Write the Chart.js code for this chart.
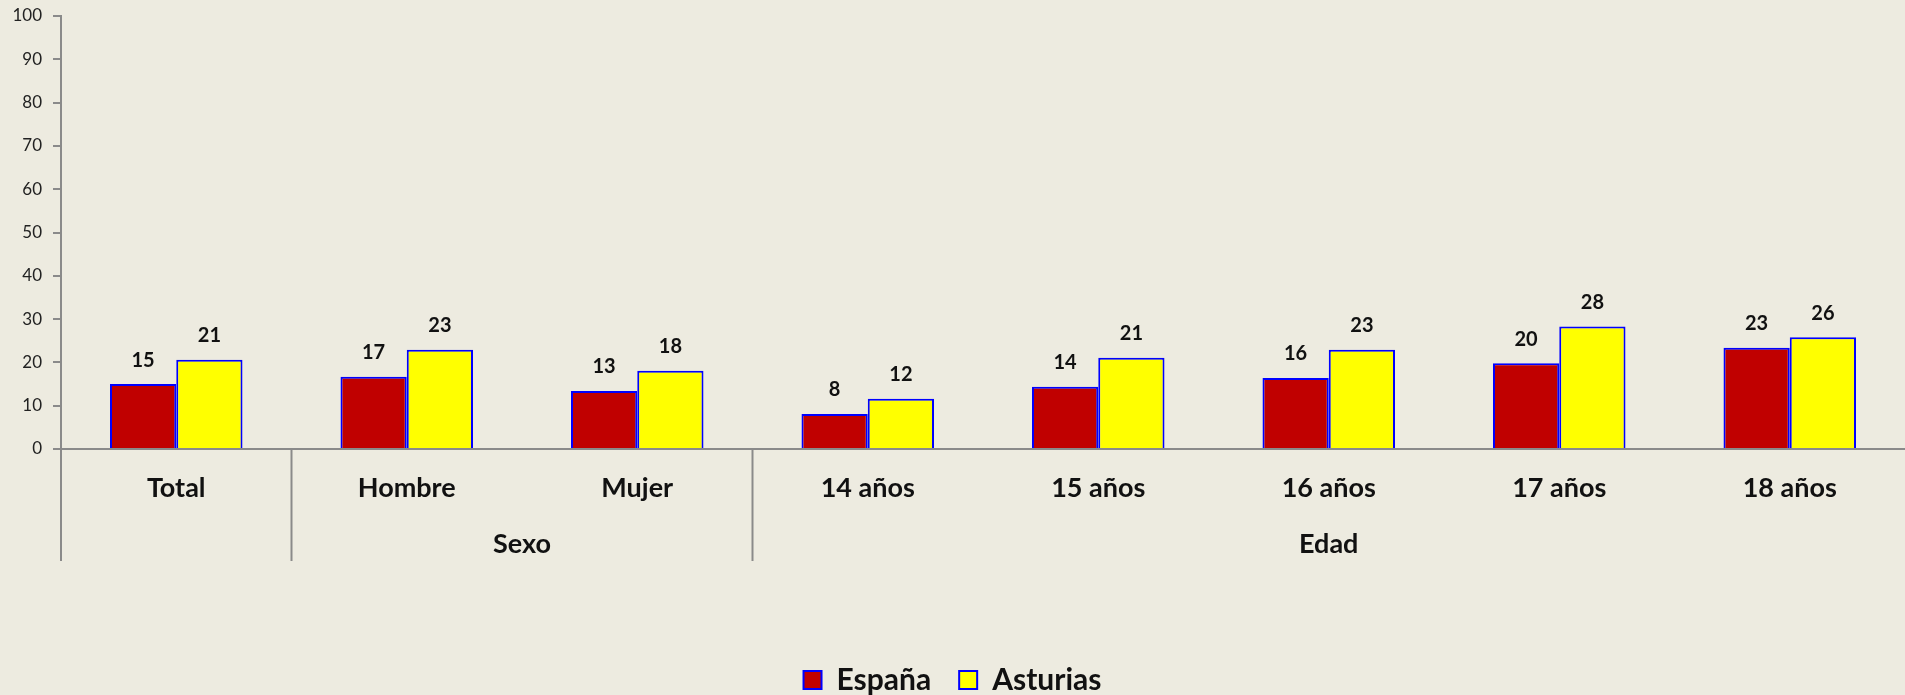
<!DOCTYPE html>
<html>
<head>
<meta charset="utf-8">
<script src="https://cdn.jsdelivr.net/npm/chart.js@4/dist/chart.umd.min.js"></script>
<style>
  body { margin: 0; background: #EDEBE0; }
  #wrap { width: 1905px; height: 695px; }
</style>
</head>
<body>
<div id="wrap"><canvas id="myChart"></canvas></div>
<script>
var categories = ["Total", "Hombre", "Mujer", "14 años", "15 años", "16 años", "17 años", "18 años"];
var groups = [
  { label: "", from: 0, to: 0 },
  { label: "Sexo", from: 1, to: 2 },
  { label: "Edad", from: 3, to: 7 }
];
var espana = [15.0, 16.7, 13.4, 8.1, 14.4, 16.4, 19.8, 23.4];
var asturias = [20.6, 22.9, 18.1, 11.6, 21.1, 22.9, 28.3, 25.8];
var yTicks = [0, 10, 20, 30, 40, 50, 60, 70, 80, 90, 100];

var FONT = "Lato";
var axisGray = "#8a8a8a";

// value labels above each bar
var barLabels = {
  id: "barLabels",
  afterDatasetsDraw: function (chart) {
    var ctx = chart.ctx;
    ctx.save();
    ctx.font = "bold 20px " + FONT;
    ctx.fillStyle = "#111";
    ctx.textAlign = "center";
    ctx.textBaseline = "middle";
    chart.data.datasets.forEach(function (ds, i) {
      chart.getDatasetMeta(i).data.forEach(function (bar, j) {
        ctx.fillText(Math.round(ds.data[j]), bar.x, bar.y - 24);
      });
    });
    ctx.restore();
  }
};

// group dividers and second-level labels under the x axis
var groupAxis = {
  id: "groupAxis",
  afterDraw: function (chart) {
    var ctx = chart.ctx;
    var x = chart.scales.x;
    var half = (x.getPixelForValue(1) - x.getPixelForValue(0)) / 2;
    var top = chart.chartArea.bottom;
    ctx.save();
    ctx.strokeStyle = axisGray;
    ctx.lineWidth = 2;
    groups.forEach(function (g) {
      var left = x.getPixelForValue(g.from) - half;
      ctx.beginPath();
      ctx.moveTo(left, top);
      ctx.lineTo(left, top + 112);
      ctx.stroke();
      if (g.label) {
        var right = x.getPixelForValue(g.to) + half;
        ctx.font = "bold 27px " + FONT;
        ctx.fillStyle = "#111";
        ctx.textAlign = "center";
        ctx.textBaseline = "middle";
        ctx.fillText(g.label, (left + right) / 2, top + 95);
      }
    });
    ctx.restore();
  }
};

new Chart(document.getElementById("myChart"), {
  type: "bar",
  data: {
    labels: categories,
    datasets: [{
      label: "España",
      data: espana,
      backgroundColor: "#C00000",
      borderColor: "#0000FF",
      borderWidth: 2,
      categoryPercentage: 0.575,
      barPercentage: 1
    }, {
      label: "Asturias",
      data: asturias,
      backgroundColor: "#FFFF00",
      borderColor: "#0000FF",
      borderWidth: 2,
      categoryPercentage: 0.575,
      barPercentage: 1
    }]
  },
  options: {
    responsive: true,
    maintainAspectRatio: false,
    animation: false,
    layout: { padding: { top: 16, right: 0, left: 0, bottom: -10 } },
    plugins: {
      tooltip: { enabled: false },
      legend: {
        position: "bottom",
        labels: {
          boxWidth: 18,
          boxHeight: 18,
          padding: 28,
          color: "#111",
          font: { family: FONT, size: 30, weight: "bold" }
        }
      }
    },
    scales: {
      x: {
        grid: { display: false, drawTicks: false },
        border: { display: true, color: axisGray, width: 2 },
        ticks: {
          padding: 23,
          color: "#111",
          maxRotation: 0,
          autoSkip: false,
          font: { family: FONT, size: 27, weight: "bold" }
        },
        afterFit: function (s) { s.height = 188; }
      },
      y: {
        min: 0,
        max: 100,
        afterBuildTicks: function (s) { s.ticks = yTicks.map(function (v) { return { value: v }; }); },
        grid: { display: true, drawOnChartArea: false, drawTicks: true, tickLength: 8, color: axisGray, lineWidth: 2 },
        border: { display: true, color: axisGray, width: 2 },
        ticks: {
          padding: 11,
          color: "#222",
          font: { family: FONT, size: 17 }
        },
        afterFit: function (s) { s.width = 61; s.paddingTop = 0; s.paddingBottom = 0; }
      }
    }
  },
  plugins: [barLabels, groupAxis]
});
</script>
</body>
</html>
